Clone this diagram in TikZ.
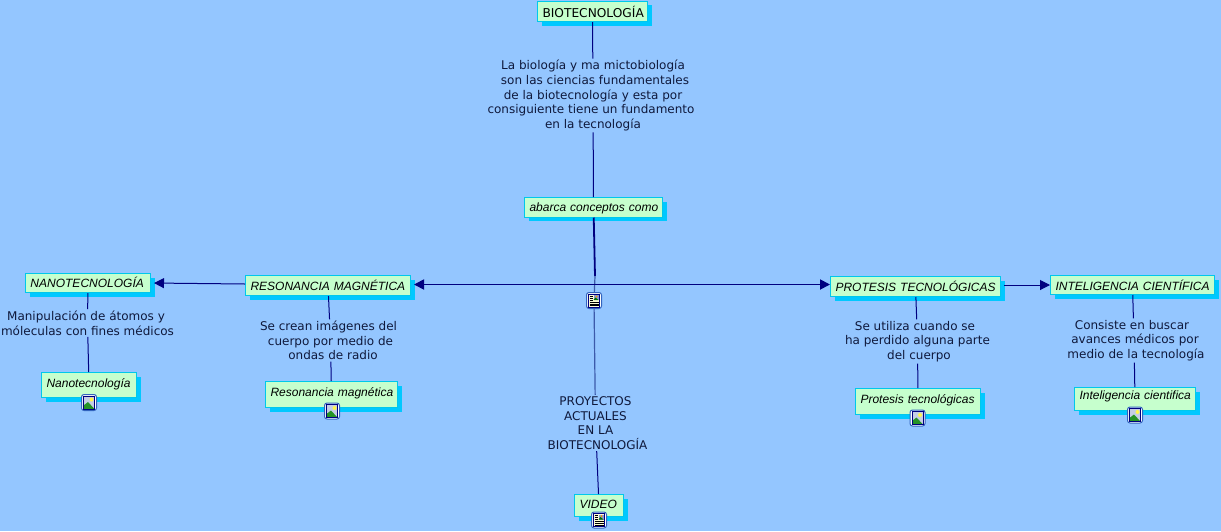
\documentclass[tikz,border=0pt]{standalone}
\usepackage{fontspec}
\setmainfont{DejaVu Sans}
\newfontfamily\boxfont{Liberation Sans}
\usetikzlibrary{arrows.meta,shadows}
\definecolor{mapbg}{RGB}{148,198,255}
\definecolor{boxfill}{RGB}{198,255,205}
\definecolor{boxedge}{RGB}{0,200,235}
\definecolor{boxshade}{RGB}{0,200,255}
\definecolor{linkcol}{RGB}{0,0,128}
\definecolor{softlink}{RGB}{60,90,170}
\definecolor{labelcol}{RGB}{15,25,60}
\definecolor{iconedge}{RGB}{50,100,190}
\tikzset{
  conc/.style={draw=boxedge, fill=boxfill, line width=1pt, anchor=north west, inner ysep=0pt, inner xsep=5pt,
               align=left, copy shadow={shadow xshift=4pt, shadow yshift=-4pt, fill=boxshade, draw=none}},
  titl/.style={conc, font=\fontsize{12.2}{14}\selectfont},
  ital/.style={conc, font=\boxfont\itshape\fontsize{12}{14}\selectfont},
  txt/.style={font=\fontsize{12}{14.6}\selectfont, text=labelcol, align=center, inner sep=1.5pt},
  lnk/.style={linkcol, line width=1pt},
  softlnk/.style={softlink, line width=1.2pt},
  axis/.style={linkcol, line width=1.8pt},
  arr/.style={-{Triangle[length=10pt,width=10pt]}},
  icn/.style={draw=iconedge, fill=white, rounded corners=2.5pt, line width=1pt, minimum width=15pt, minimum height=16pt, inner sep=0pt},
}
\begin{document}
\begin{tikzpicture}[x=1pt,y=-1pt]
    \useasboundingbox (0,0) rectangle (1221,531);
    \fill[mapbg] (0,0) rectangle (1221,531);
    % --- boxes
    \node[titl, text width=100pt, text height=16pt, text depth=4.5pt] (bio) at (537,0.5) {\mbox{BIOTECNOLOGÍA}};
    \node[ital, text width=128pt, text height=14pt, text depth=5.5pt] (abarca) at (524,197) {\mbox{abarca conceptos como}};
    \node[ital, text width=115pt, text height=14pt, text depth=5pt] (nano) at (25,273) {\mbox{NANOTECNOLOGÍA}};
    \node[ital, text width=155pt, text height=15pt, text depth=5pt] (reso) at (245,275) {\mbox{RESONANCIA MAGNÉTICA}};
    \node[ital, text width=160pt, text height=15pt, text depth=5pt] (prot) at (830,276) {\mbox{PROTESIS TECNOLÓGICAS}};
    \node[ital, text width=154pt, text height=15pt, text depth=4pt] (inte) at (1050,275) {\mbox{INTELIGENCIA CIENTÍFICA}};
    \node[ital, text width=85pt, text height=14.5pt, text depth=10.5pt] (nanob) at (41,372) {\mbox{Nanotecnología}};
    \node[ital, text width=122pt, text height=15pt, text depth=11pt] (resob) at (265,381) {\mbox{Resonancia magnética}};
    \node[ital, text width=115pt, text height=15pt, text depth=11pt] (protb) at (855,388) {\mbox{Protesis tecnológicas}};
    \node[ital, text width=111pt, text height=12pt, text depth=11pt] (inteb) at (1074,387) {\mbox{Inteligencia cientifica}};
    \node[ital, text width=39pt, text height=14pt, text depth=8pt] (video) at (574,494) {\mbox{VIDEO}};
    % --- texts on the links
    \node[txt] (tbio) at (593,95.5) {La biología y ma mictobiología\\\hspace*{4pt}son las ciencias fundamentales\\de la biotecnología y esta por\\\hspace*{-4pt}consiguiente tiene un fundamento\\en la tecnología};
    \node[txt] (tnano) at (87.5,323) {\hspace*{-3pt}Manipulación de átomos y\\móleculas con fines médicos};
    \node[txt] (treso) at (330.5,340.5) {\hspace*{-4pt}Se crean imágenes del\\cuerpo por medio de\\\hspace*{5pt}ondas de radio};
    \node[txt] (tprot) at (917.5,341.5) {\hspace*{-5pt}Se utiliza cuando se\\ha perdido alguna parte\\\hspace*{3pt}del cuerpo};
    \node[txt] (tinte) at (1134,340.5) {\hspace*{-4pt}Consiste en buscar\\\hspace*{2pt}avances médicos por\\\hspace*{4pt}medio de la tecnología};
    \node[txt] (tproy) at (595.5,423) {PROYECTOS\\ACTUALES\\EN LA\\\hspace*{4pt}BIOTECNOLOGÍA};
    % --- icons: 1 text sheet, 0 picture
    \foreach \n/\x/\y/\k in {hub/594/300.5/1,vid/599/520/1,nan/89/402.5/0,res/332/411/0,pro/917.5/418/0,int/1135/415/0}{
      \node[icn] (ic\n) at (\x,\y) {};
      \begin{scope}[shift={(\x,\y)}]
        \ifnum\k=1
          \fill[yellow!15!white] (-5.5,-6.5) rectangle (5.5,6.5);
          \foreach \v in {-4.5,-2.5,-0.5}{\draw[black, line width=0.9pt] (-4.5,\v) -- (-1,\v);}
          \foreach \v in {1.5,3.5,5}{\draw[black, line width=0.9pt] (-4.5,\v) -- (4.5,\v);}
          \fill[softlink!60] (-0.5,-5.5) rectangle (4.5,-0.5);
          \fill[orange!80!yellow] (2.5,-4) circle (1);
          \fill[green!45!black] (-0.5,-0.5) -- (1.5,-3) -- (4.5,-0.5) -- cycle;
          \draw[linkcol, line width=0.6pt] (-5.5,-6.5) rectangle (5.5,6.5);
        \else
          \fill[softlink!30!white] (-5.5,-6.5) rectangle (5.5,6.5);
          \fill[yellow!70!white] (2.5,-3) circle (2);
          \fill[green!50!black!85] (-5.5,6.5) -- (-5.5,3) -- (-1,-0.5) -- (5.5,6.5) -- cycle;
          \draw[linkcol, line width=0.6pt] (-5.5,-6.5) rectangle (5.5,6.5);
        \fi
      \end{scope}
    }
    % --- links
    \coordinate (hub) at (595,284.5);
    \coordinate (hubtop) at (595,276);
    \draw[lnk] (bio) -- (tbio);
    \draw[lnk] (tbio) -- (abarca);
    \draw[axis] (abarca) -- (hubtop);
    \draw[softlnk] (hubtop) -- (ichub);
    \draw[axis, arr, shorten >=3pt] (hub) -- (reso.east |- hub);
    \draw[axis, arr] (hub) -- (prot.west |- hub);
    \draw[softlnk] (ichub) -- (tproy);
    \draw[lnk] (tproy) -- (video);
    \draw[lnk, arr, shorten >=3pt] ([yshift=1.5pt]reso.west) -- (nano.east);
    \draw[lnk, arr, shorten <=3pt] ([yshift=1.5pt]prot.east) -- (inte.west);
    \draw[lnk] (nano) -- (tnano);
    \draw[lnk] (tnano) -- (nanob);
    \draw[lnk] (reso) -- (treso);
    \draw[lnk] (treso) -- (resob);
    \draw[lnk] (prot) -- (tprot);
    \draw[lnk] (tprot) -- (protb);
    \draw[lnk] (inte) -- (tinte);
    \draw[lnk] (tinte) -- (inteb);
  \end{tikzpicture}
\end{document}
